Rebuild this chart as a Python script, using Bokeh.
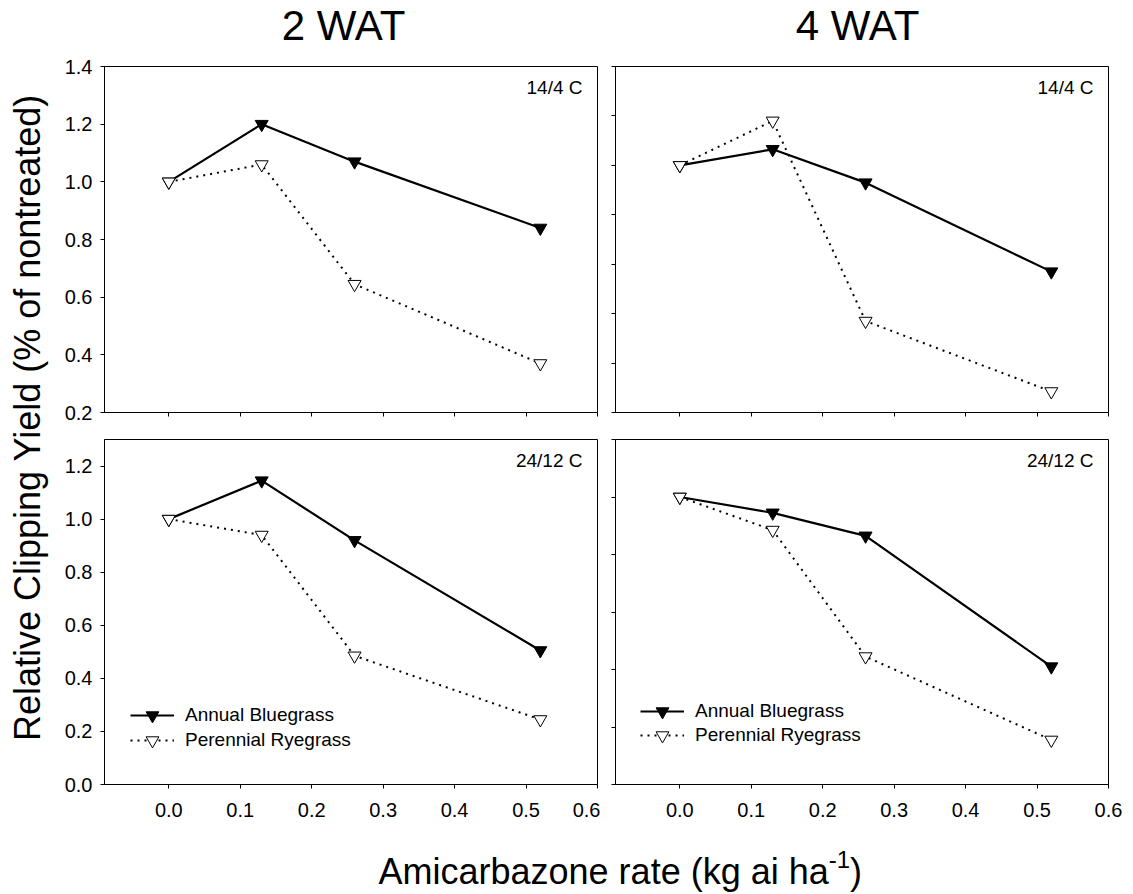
import math
from bokeh.plotting import figure
from bokeh.models import Range1d, FixedTicker, Label, Legend, LegendItem, PrintfTickFormatter
from bokeh.layouts import row, column
from bokeh.embed import file_html
from bokeh.resources import INLINE

# ---------------- data ----------------
rates = [0.0, 0.13, 0.26, 0.52]
x_ticks = [0.0, 0.1, 0.2, 0.3, 0.4, 0.5, 0.6]

ab_2wat_14 = [1.00, 1.20, 1.07, 0.84]
pr_2wat_14 = [1.00, 1.06, 0.645, 0.37]
ab_4wat_14 = [1.00, 1.065, 0.93, 0.57]
pr_4wat_14 = [1.00, 1.18, 0.37, 0.085]
ab_2wat_24 = [1.00, 1.145, 0.92, 0.505]
pr_2wat_24 = [1.00, 0.94, 0.485, 0.245]
ab_4wat_24 = [1.00, 0.945, 0.865, 0.41]
pr_4wat_24 = [1.00, 0.885, 0.445, 0.155]

yticks_tl = [0.2, 0.4, 0.6, 0.8, 1.0, 1.2, 1.4]
yticks_tr = [0.0, 0.2, 0.4, 0.6, 0.8, 1.0, 1.2, 1.4]
yticks_bl = [0.0, 0.2, 0.4, 0.6, 0.8, 1.0, 1.2]
yticks_br = [0.0, 0.2, 0.4, 0.6, 0.8, 1.0, 1.2]

series_names = ["Annual Bluegrass", "Perennial Ryegrass"]
col_titles = ["2 WAT", "4 WAT"]
temp_labels = ["14/4 C", "24/12 C"]
y_title = "Relative Clipping Yield (% of nontreated)"
x_title = "Amicarbazone rate (kg ai ha"
x_title_sup = "-1"

FONT = "Liberation Sans"
FW = 493


def style_axis(ax, ticks, show, standoff):
    ax.ticker = FixedTicker(ticks=ticks)
    ax.formatter = PrintfTickFormatter(format="%.1f")
    ax.axis_line_color = "black"
    ax.axis_line_width = 1
    ax.major_tick_line_color = "black"
    ax.major_tick_out = 4
    ax.major_tick_in = 0
    ax.minor_tick_line_color = None
    ax.major_label_text_font = FONT
    ax.major_label_text_color = "black"
    if show:
        ax.major_label_text_font_size = "20px"
        ax.major_label_standoff = standoff
    else:
        ax.major_label_overrides = {t: "" for t in ticks}
        ax.major_label_text_font_size = "1px"
        ax.major_label_standoff = 0


def make_panel(ab, pr, yr, yticks, bl, br, bt, bb, fh, show_y, show_x,
               temp, legend_ys=None, legend_x=26):
    w = bl + FW + br
    h = bt + fh + bb
    p = figure(width=w, height=h, output_backend="svg", toolbar_location=None,
               x_range=Range1d(-0.09, 0.6), y_range=Range1d(*yr),
               min_border_left=bl, min_border_right=br,
               min_border_top=bt, min_border_bottom=bb,
               background_fill_color="white", border_fill_color="white",
               outline_line_color="black", outline_line_width=1)
    p.xgrid.visible = False
    p.ygrid.visible = False
    style_axis(p.xaxis[0], x_ticks, show_x, 14)
    style_axis(p.yaxis[0], yticks, show_y, 8)

    l1 = p.line(rates, ab, line_color="black", line_width=2.2)
    s1 = p.scatter(rates, ab, marker="inverted_triangle", size=13,
                   fill_color="black", line_color="black", line_width=1)
    l2 = p.line(rates, pr, line_color="black", line_width=2, line_dash="2 5")
    s2 = p.scatter(rates, pr, marker="inverted_triangle", size=13,
                   fill_color="white", line_color="black", line_width=1)

    p.add_layout(Label(x=FW - 15, y=fh - 21, x_units="screen", y_units="screen",
                       text=temp, text_align="right", text_baseline="alphabetic",
                       text_font=FONT, text_font_size="19px", text_color="black"))
    if legend_ys is not None:
        for name, rends, ly in ((series_names[0], [l1, s1], legend_ys[0]),
                                (series_names[1], [l2, s2], legend_ys[1])):
            leg = Legend(items=[LegendItem(label=name, renderers=rends)],
                         location=(legend_x, ly), orientation="vertical",
                         glyph_width=44, glyph_height=32, label_height=20,
                         label_standoff=11, padding=0, margin=0, spacing=0,
                         border_line_color=None, background_fill_alpha=0,
                         label_text_font=FONT, label_text_font_size="19px",
                         label_text_color="black")
            p.add_layout(leg)
    return p


TOP_FH = 346
BOT_FH = 345
TTL_H = 53

tl = make_panel(ab_2wat_14, pr_2wat_14, (0.2, 1.4), yticks_tl, 48, 3, 66 - TTL_H, 13, TOP_FH,
                True, False, temp_labels[0])
tr = make_panel(ab_4wat_14, pr_4wat_14, (0.0, 1.4), yticks_tr, 15, 25, 66 - TTL_H, 13, TOP_FH,
                False, False, temp_labels[0])
bl = make_panel(ab_2wat_24, pr_2wat_24, (0.0, 1.3), yticks_bl, 48, 3, 14, 46, BOT_FH,
                True, True, temp_labels[1], (53, 28), 26)
br = make_panel(ab_4wat_24, pr_4wat_24, (0.0, 1.2), yticks_br, 15, 25, 14, 46, BOT_FH,
                False, True, temp_labels[1], (57, 33), 25)


def blank(w, h):
    f = figure(width=w, height=h, output_backend="svg", toolbar_location=None,
               x_range=Range1d(0, w), y_range=Range1d(0, h),
               min_border=0, x_axis_type=None, y_axis_type=None,
               outline_line_color=None, background_fill_color="white",
               border_fill_color="white")
    f.grid.visible = False
    return f


# y-axis title strip
ylab = blank(56, 894)
ylab.add_layout(Label(x=27, y=894 - 417, x_units="screen", y_units="screen",
                      text=y_title, angle=math.pi / 2, text_align="center",
                      text_baseline="alphabetic", text_font=FONT,
                      text_font_size="36px", text_color="black"))

# column titles strip
XW = 1077
ttl = blank(XW, TTL_H)
for cx, t in ((343 - 56, col_titles[0]), (857 - 56, col_titles[1])):
    ttl.add_layout(Label(x=cx, y=TTL_H - 25, x_units="screen", y_units="screen",
                         text=t, text_align="center", text_baseline="alphabetic",
                         text_font=FONT, text_font_size="42px", text_color="black"))

# x-axis title strip
xlab = blank(XW, 64)
x0 = 322
xlab.add_layout(Label(x=x0, y=23, x_units="screen", y_units="screen",
                      text=x_title, text_align="left", text_baseline="alphabetic",
                      text_font=FONT, text_font_size="36px", text_color="black"))
sup_x = x0 + 12.506 * 36
xlab.add_layout(Label(x=sup_x, y=35, x_units="screen", y_units="screen",
                      text=x_title_sup, text_align="left", text_baseline="alphabetic",
                      text_font=FONT, text_font_size="24px", text_color="black"))
xlab.add_layout(Label(x=sup_x + 0.889 * 24, y=23, x_units="screen", y_units="screen",
                      text=")", text_align="left", text_baseline="alphabetic",
                      text_font=FONT, text_font_size="36px", text_color="black"))

layout = row(ylab, column(ttl, row(tl, tr), row(bl, br), xlab))

open("out.html", "w").write(file_html(layout, INLINE))
